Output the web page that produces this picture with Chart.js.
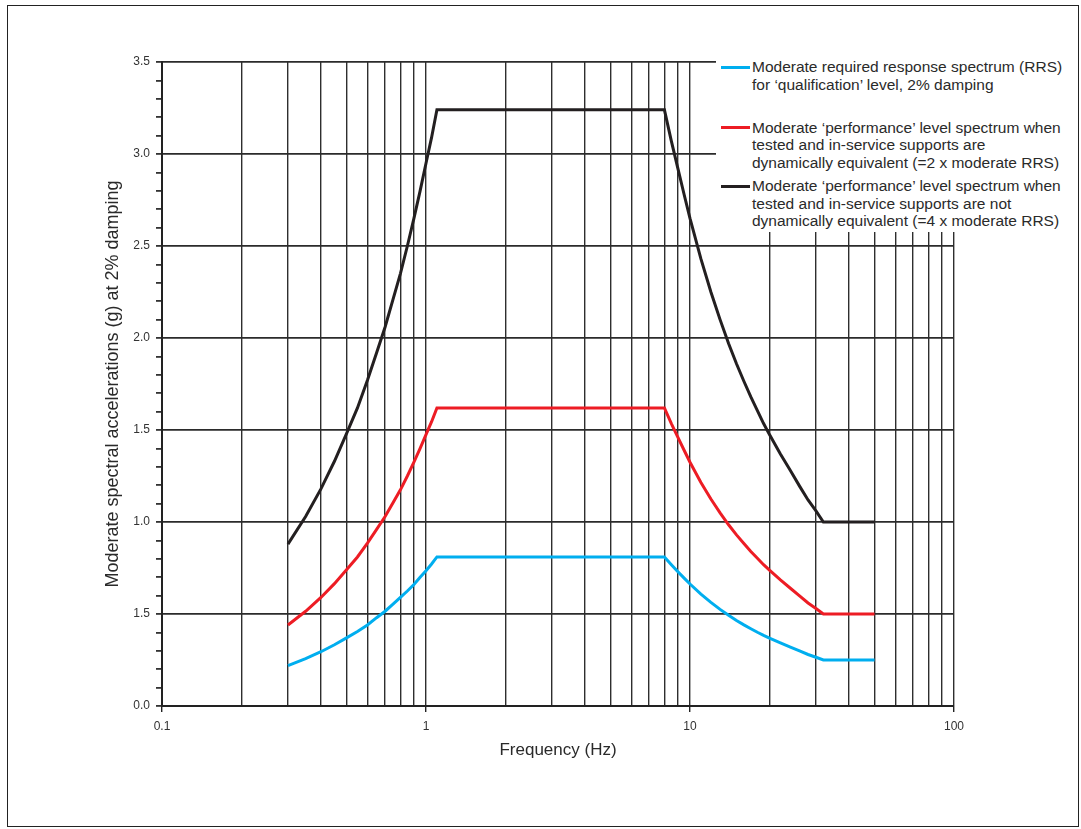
<!DOCTYPE html>
<html>
<head>
<meta charset="utf-8">
<script src="https://cdn.jsdelivr.net/npm/chart.js@4.4.0/dist/chart.umd.min.js"></script>
<style>
  body { margin: 0; background: #fff; font-family: "Liberation Sans", Arial, sans-serif; }
  #wrap { position: relative; width: 1081px; height: 829px; }
  #frame { position: absolute; left: 7px; top: 5px; width: 1070px; height: 820px; border: 1.5px solid #222; }
  #legend { position: absolute; left: 716px; top: 50px; width: 358px; height: 182px; background: #fff; }
  .entry { position: absolute; left: 0; }
  .swatch { position: absolute; left: 5px; width: 29px; height: 3px; }
  .text { position: absolute; left: 36px; white-space: nowrap; font-size: 15.5px; line-height: 17.6px; color: #2a2a2a; }
</style>
</head>
<body>
<div id="wrap">
  <div id="frame"></div>
  <canvas id="chart" width="1081" height="829"></canvas>
  <div id="legend"></div>
</div>
<script>
const freqHz = [0.3, 0.35, 0.4, 0.45, 0.5, 0.55, 0.6, 0.65, 0.7, 0.75, 0.8, 0.85, 0.9, 0.95, 1.0, 1.05, 1.1,
    8, 8.5, 9, 9.5, 10, 11, 12, 13, 14, 15, 16, 17, 18, 19, 20, 22, 24, 26, 28, 30, 32, 50];
const rrsQualification = [0.22, 0.258, 0.295, 0.333, 0.37, 0.405, 0.44, 0.48, 0.515, 0.553, 0.59, 0.625, 0.66, 0.70, 0.735, 0.772, 0.81,
    0.81, 0.768, 0.73, 0.695, 0.663, 0.608, 0.563, 0.525, 0.493, 0.465, 0.441, 0.42, 0.401, 0.384, 0.369, 0.343, 0.32, 0.299, 0.28, 0.265, 0.25, 0.25];
const perfEquivalent = [0.44, 0.515, 0.59, 0.665, 0.74, 0.81, 0.885, 0.96, 1.03, 1.105, 1.175, 1.25, 1.325, 1.40, 1.475, 1.545, 1.62,
    1.62, 1.535, 1.46, 1.39, 1.325, 1.215, 1.125, 1.05, 0.985, 0.93, 0.883, 0.84, 0.803, 0.768, 0.738, 0.685, 0.64, 0.598, 0.56, 0.53, 0.5, 0.5];
const perfNotEquivalent = [0.88, 1.03, 1.18, 1.33, 1.48, 1.62, 1.77, 1.92, 2.06, 2.21, 2.35, 2.50, 2.65, 2.80, 2.95, 3.09, 3.24,
    3.24, 3.07, 2.92, 2.78, 2.65, 2.43, 2.25, 2.10, 1.97, 1.86, 1.765, 1.68, 1.605, 1.535, 1.475, 1.37, 1.28, 1.195, 1.12, 1.06, 1.0, 1.0];

const seriesLabels = [
    ['Moderate required response spectrum (RRS)', 'for \u2018qualification\u2019 level, 2% damping'],
    ['Moderate \u2018performance\u2019 level spectrum when', 'tested and in-service supports are', 'dynamically equivalent (=2 x moderate RRS)'],
    ['Moderate \u2018performance\u2019 level spectrum when', 'tested and in-service supports are not', 'dynamically equivalent (=4 x moderate RRS)']
];
const seriesColors = ['#00aeef', '#ed1c24', '#231f20'];
const legendTops = [8, 68.5, 127];

// y tick labels (0.0 .. 3.5 in steps of 0.5, as printed in the original)
const yTickLabels = ['0.0', '1.5', '1.0', '1.5', '2.0', '2.5', '3.0', '3.5'];
const xTickLabels = { 0.1: '0.1', 1: '1', 10: '10', 100: '100' };

function points(values) {
    return freqHz.map((f, i) => ({ x: f, y: values[i] }));
}

const isMajorY = v => Math.abs(v * 2 - Math.round(v * 2)) < 1e-6;
const isDecade = v => Math.abs(Math.log10(v) - Math.round(Math.log10(v))) < 1e-6;
// keep only 1..9 x 10^n on the log axis (drop the 1.5, 15 ones)
const isWholeSignificand = v => {
    const s = v / Math.pow(10, Math.floor(Math.log10(v) + 1e-9));
    return Math.abs(s - Math.round(s)) < 1e-6;
};

const allSeries = [rrsQualification, perfEquivalent, perfNotEquivalent];

const ctx = document.getElementById('chart').getContext('2d');
const myChart = new Chart(ctx, {
    type: 'line',
    data: {
        datasets: allSeries.map((vals, i) => ({
            label: seriesLabels[i].join(' '),
            data: points(vals),
            borderColor: seriesColors[i],
            borderWidth: 3,
            pointRadius: 0,
            tension: 0,
            fill: false
        }))
    },
    options: {
        responsive: false,
        animation: false,
        layout: { padding: { left: 100, top: 62, right: 127, bottom: 67 } },
        plugins: { legend: { display: false }, tooltip: { enabled: false } },
        scales: {
            x: {
                type: 'logarithmic',
                min: 0.1,
                max: 100,
                afterFit: s => { s.height = 56; },
                afterBuildTicks: s => { s.ticks = s.ticks.filter(t => isWholeSignificand(t.value)); },
                border: { color: '#222', width: 2 },
                grid: {
                    color: '#2e2e2e',
                    lineWidth: 1.4,
                    tickLength: 6,
                    tickColor: c => isDecade(c.tick.value) ? '#222' : 'rgba(0,0,0,0)'
                },
                ticks: {
                    autoSkip: false,
                    maxRotation: 0,
                    padding: 7,
                    color: '#333',
                    font: { family: 'Liberation Sans', size: 12 },
                    callback: v => xTickLabels[v] || ''
                },
                title: {
                    display: true,
                    text: 'Frequency (Hz)',
                    color: '#2a2a2a',
                    font: { family: 'Liberation Sans', size: 17 },
                    padding: { top: 0, bottom: 1 }
                }
            },
            y: {
                min: 0,
                max: 3.5,
                afterFit: s => { s.width = 62; },
                border: { color: '#222', width: 2 },
                grid: {
                    color: c => isMajorY(c.tick.value) ? '#2b2b2b' : 'rgba(0,0,0,0)',
                    lineWidth: 1.8,
                    tickLength: 6,
                    tickColor: '#333'
                },
                ticks: {
                    stepSize: 0.1,
                    autoSkip: false,
                    padding: 6,
                    color: '#333',
                    font: { family: 'Liberation Sans', size: 12 },
                    callback: v => isMajorY(v) ? yTickLabels[Math.round(v * 2)] : ''
                },
                title: {
                    display: true,
                    text: 'Moderate spectral accelerations (g) at 2% damping',
                    color: '#2a2a2a',
                    font: { family: 'Liberation Sans', size: 18 },
                    padding: { top: 2, bottom: 0 }
                }
            }
        }
    }
});

// legend as html so the labels can wrap over several lines
const legend = document.getElementById('legend');
seriesLabels.forEach((lines, i) => {
    const entry = document.createElement('div');
    entry.className = 'entry';
    entry.style.top = legendTops[i] + 'px';
    const sw = document.createElement('div');
    sw.className = 'swatch';
    sw.style.background = seriesColors[i];
    sw.style.top = '7.5px';
    const txt = document.createElement('div');
    txt.className = 'text';
    txt.innerHTML = lines.join('<br>');
    entry.appendChild(sw);
    entry.appendChild(txt);
    legend.appendChild(entry);
});
</script>
</body>
</html>
